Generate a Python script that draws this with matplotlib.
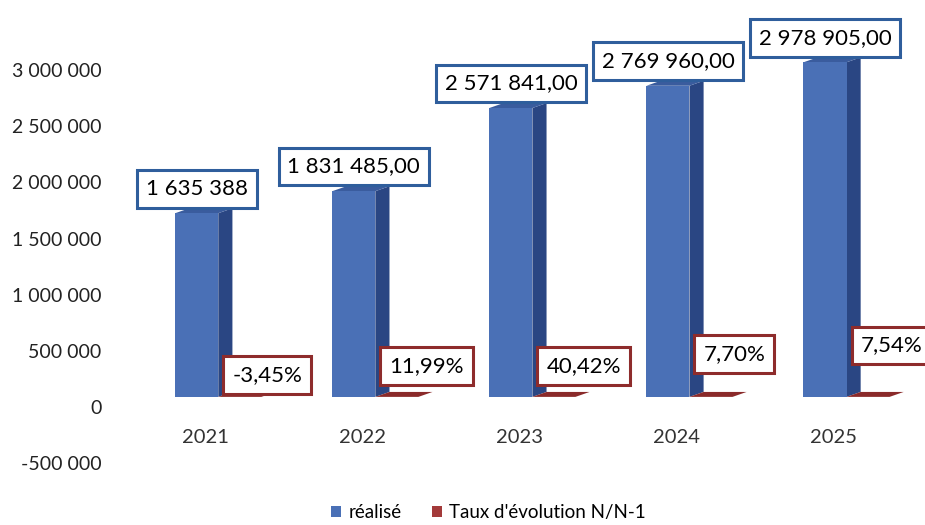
import numpy as np
import matplotlib.pyplot as plt
from matplotlib.patches import Polygon, Patch

plt.rcParams['font.family'] = ['Lato', 'DejaVu Sans']

annees = ['2021', '2022', '2023', '2024', '2025']
realise = [1635388, 1831485.00, 2571841.00, 2769960.00, 2978905.00]
etiquettes_realise = ['1 635 388', '1 831 485,00', '2 571 841,00', '2 769 960,00', '2 978 905,00']
taux = [-0.0345, 0.1199, 0.4042, 0.0770, 0.0754]
etiquettes_taux = ['-3,45%', '11,99%', '40,42%', '7,70%', '7,54%']
graduations = [-500000, 0, 500000, 1000000, 1500000, 2000000, 2500000, 3000000]
etiquettes_graduations = ['-500 000', '0', '500 000', '1 000 000', '1 500 000',
                          '2 000 000', '2 500 000', '3 000 000']

# couleurs
bleu_face, bleu_cote, bleu_dessus = '#4a70b6', '#2a4683', '#3a5c9e'
rouge_face, rouge_cote, rouge_dessus = '#a33a3a', '#6e1e1e', '#8a2a2a'
bleu_cadre, rouge_cadre = '#2f5e9c', '#8e2c2c'

# effet 3D
largeur = 0.274
dx = 0.09        # profondeur en x (unites categorie)
dy = 44000       # profondeur en y (unites donnees)
decalage = 90000  # base de la face avant

# position verticale des etiquettes de taux (points au-dessus de la base)
hauteur_etiq_taux = [16, 22, 22, 31, 37]


def faces_3d(ax, x, base, h, c_cote, c_dessus):
    haut = base + h
    cote = Polygon([(x + largeur, base), (x + largeur + dx, base + dy),
                    (x + largeur + dx, haut + dy), (x + largeur, haut)],
                   closed=True, fc=c_cote, ec='none', zorder=2)
    dessus = Polygon([(x, haut), (x + largeur, haut),
                      (x + largeur + dx, haut + dy), (x + dx, haut + dy)],
                     closed=True, fc=c_dessus, ec='none', zorder=2)
    ax.add_patch(cote)
    ax.add_patch(dessus)


fig = plt.figure(figsize=(9.25, 5.25), dpi=100)
ax = fig.add_axes([125 / 925, 45 / 525, 790 / 925, 475 / 525])

x = np.arange(len(annees))
x_bleu = x - 0.19
x_rouge = x_bleu + largeur

ax.bar(x_bleu, realise, width=largeur, bottom=decalage, align='edge',
       color=bleu_face, zorder=3)
ax.bar(x_rouge, taux, width=largeur, bottom=decalage, align='edge',
       color=rouge_face, zorder=3)

for i in range(len(annees)):
    faces_3d(ax, x_bleu[i], decalage, realise[i], bleu_cote, bleu_dessus)
    faces_3d(ax, x_rouge[i], decalage, taux[i], rouge_cote, rouge_dessus)

    ax.annotate(etiquettes_realise[i], xy=(x_bleu[i] + largeur / 2, decalage + realise[i]),
                xytext=(0, 10.5), textcoords='offset points', ha='center', va='bottom',
                fontsize=16, color='black', zorder=5,
                bbox=dict(boxstyle='square,pad=0.4', fc='white', ec=bleu_cadre, lw=2.2))
    ax.annotate(etiquettes_taux[i], xy=(x_rouge[i], decalage),
                xytext=(10, hauteur_etiq_taux[i]), textcoords='offset points',
                ha='left', va='center', fontsize=16, color='black', zorder=5,
                bbox=dict(boxstyle='square,pad=0.4', fc='white', ec=rouge_cadre, lw=2.2))

    ax.text(x[i], -270000, annees[i], ha='center', va='center', fontsize=14.5, color='#333333')

ax.set_xlim(-0.51, 4.52)
ax.set_ylim(-650000, 3579000)
ax.set_yticks(graduations)
ax.set_yticklabels(etiquettes_graduations, fontsize=14, color='#222222')
ax.tick_params(axis='y', length=0, pad=17)
ax.set_xticks([])
for s in ax.spines.values():
    s.set_visible(False)

poignees = [Patch(fc=bleu_face, ec='none', label='réalisé'),
            Patch(fc=rouge_face, ec='none', label="Taux d'évolution N/N-1")]
fig.legend(handles=poignees, loc='lower center', bbox_to_anchor=(0.528, -0.025), ncol=2,
           frameon=False, fontsize=13.5, handlelength=0.55, handleheight=0.55,
           handletextpad=0.4, columnspacing=1.6)

fig.savefig('out.png', dpi=100)
